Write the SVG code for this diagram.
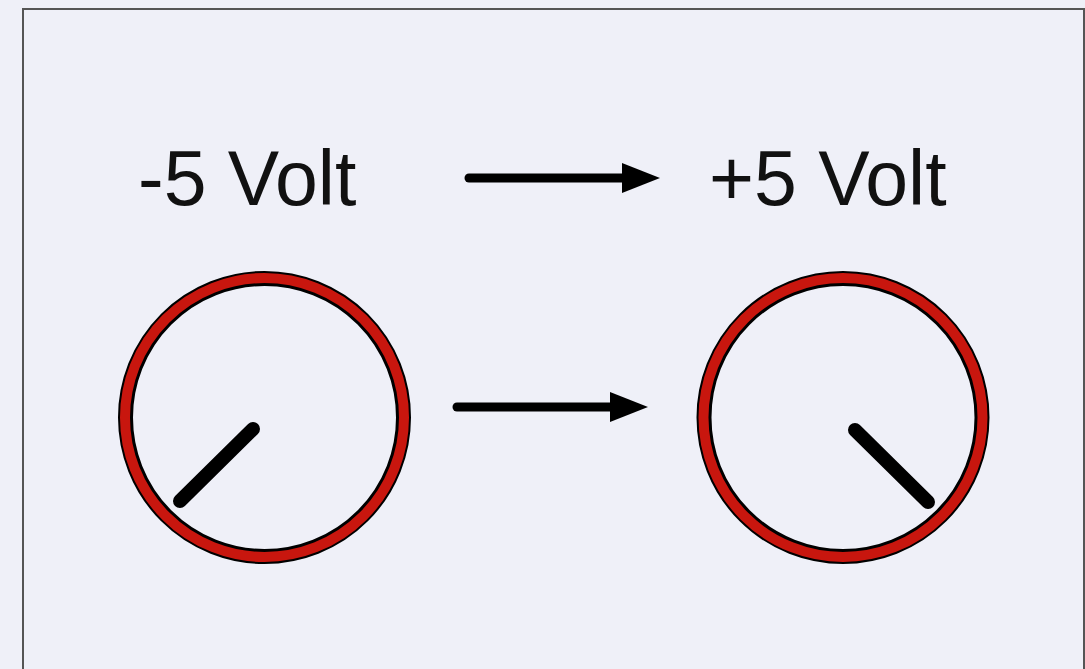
<svg xmlns="http://www.w3.org/2000/svg" width="1085" height="669" viewBox="0 0 1085 669">
<defs>
<style>
.lbl{font-family:"Liberation Sans",Arial,sans-serif;font-size:77px;fill:#111;}
.ringb{fill:none;stroke:#000;stroke-width:15;}
.ringr{fill:none;stroke:#c8160e;stroke-width:10;}
.needle{stroke:#000;stroke-width:14;stroke-linecap:round;}
.arr{stroke:#000;stroke-width:9;stroke-linecap:round;}
</style>
</defs>
<rect x="0" y="0" width="1085" height="669" fill="#eff0f8"/>
<path d="M23 669 V9 H1084 V669" fill="none" stroke="#555" stroke-width="2"/>
<g id="label-minus"><text class="lbl" x="138" y="205">-5 Volt</text></g>
<g id="label-plus"><text class="lbl" x="709" y="205">+5 Volt</text></g>
<g id="knob-left">
<circle class="ringb" cx="264.5" cy="417.5" r="139"/>
<circle class="ringr" cx="264.5" cy="417.5" r="139.5"/>
<line class="needle" x1="253" y1="429" x2="180" y2="501"/>
</g>
<g id="knob-right">
<circle class="ringb" cx="843" cy="417.5" r="139"/>
<circle class="ringr" cx="843" cy="417.5" r="139.5"/>
<line class="needle" x1="855" y1="430" x2="928" y2="502"/>
</g>
<g id="connectors">
<line class="arr" x1="469" y1="178" x2="626" y2="178"/>
<polygon points="622,163 660,178 622,193" fill="#000"/>
<line class="arr" x1="457" y1="407" x2="614" y2="407"/>
<polygon points="610,392 648,407 610,422" fill="#000"/>
</g>
</svg>
